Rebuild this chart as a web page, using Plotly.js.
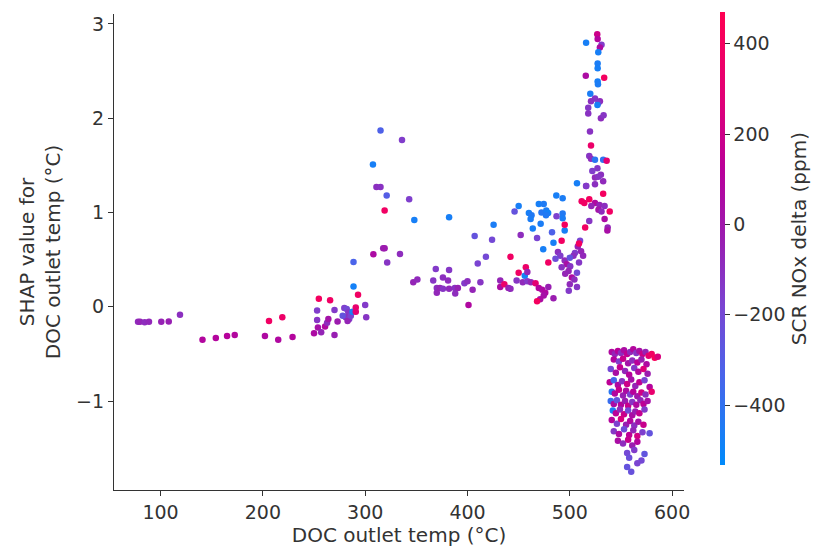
<!DOCTYPE html>
<html><head><meta charset="utf-8">
<script src="https://cdn.plot.ly/plotly-3.0.1.min.js"></script>
<style>html,body{margin:0;padding:0;background:#fff;}#chart{width:824px;height:552px;}</style>
</head><body><div id="chart"></div>
<script>
// DOC outlet temp (°C)
const temp = [
78,80,84.5,88.7,100.7,108,119,
141,154,165,172.5,
202,206,215,219,229,
250,253,254.7,253,253.8,257,260.8,262.8,264,265.7,270,270,273,
279.6,282,283.5,281,284.4,282.8,286,278,
288.6,288.6,293,287.6,290.8,290.8,300,301,
308,311,315,319,317.6,319,321,321.5,
315,307.6,336,
343,348,382,334,
369,382,347,351,366.5,376,381,
370,370,373,376,382,387.6,390.6,388,
397,400,405,401,412.6,410,418,407,424,425.5,
432,432,436,440,442,442,446,450,452,
450,457,456,458.5,448,454,458.5,462,
466.5,469.7,473,476,479,474.5,471,468,484,
460,462.6,461.7,469.7,474.5,472.3,477,478.8,476.7,471.5,463.8,468,474,482.6,484,486.8,493,493,493,495,495,487,492,507,516,
488.4,490.7,495,497,500.4,498.8,502,504.5,507,509,511,507.8,505,503.6,510,513,500,492,495.5,499,500,507,486,479,509,515,519,
511.6,519,524.6,529,534,528,531,539,534,537,536.7,532.6,524.6,532.6,
526.8,527.2,531,529.4,515.9,527.8,527.2,527.2,533.6,515.6,527.2,527.5,520,524.6,520.7,529.4,527.8,518,518,527,530.4,533,519.7,520.7,519,520.7,524.6,532.6,527,522,530.4,524.6,527.8,515.9,514.2,521,536,
541,544,547,550,553,556,559,562,565,568,571,574,577,580,583,586,
543,548,552,557,561,566,570,575,
540,545,549,554,558,563,567,572,576,
539,543,547,551,556,560,564,568,573,578,
541,544,548,552,555,559,562,566,570,574,580,
540,543,546,550,554,557,561,565,569,572,576,
542,545,549,553,557,561,564,568,573,
541,546,550,555,559,563,567,572,
543,548,553,558,562,566,571,578,
547,552,557,561,566,
556,563,558,570,556,566,573,560
];
// SHAP value for DOC outlet temp (°C)
const shap = [
-0.16,-0.16,-0.165,-0.16,-0.16,-0.155,-0.085,
-0.35,-0.33,-0.31,-0.30,
-0.31,-0.15,-0.35,-0.11,-0.32,
-0.28,-0.04,0.085,-0.14,-0.22,-0.27,-0.21,-0.17,-0.13,0.07,-0.035,-0.30,-0.155,
-0.014,-0.024,-0.06,-0.11,-0.13,-0.15,-0.095,-0.095,
0.475,0.214,0.127,-0.053,-0.007,-0.053,0.018,-0.11,
0.556,1.27,1.27,1.02,0.62,0.62,1.18,0.47,
1.87,1.51,1.77,
1.14,0.92,0.95,0.56,
0.40,0.39,0.26,0.29,0.28,0.31,0.28,
0.20,0.15,0.20,0.19,0.19,0.20,0.20,0.14,
0.25,0.27,0.18,0.02,0.26,0.46,0.53,0.75,0.71,0.87,
0.28,0.21,0.24,0.20,0.19,0.53,1.01,1.07,0.76,
0.36,0.42,0.33,0.37,0.28,0.26,0.27,0.26,
0.25,0.20,0.18,0.15,0.21,0.12,0.08,0.06,0.09,
0.995,0.97,0.93,1.09,1.09,1.00,1.02,0.995,0.97,0.88,0.83,0.73,0.61,0.79,0.68,1.18,1.15,0.99,0.94,0.81,0.87,0.96,0.70,1.31,1.28,
0.58,0.54,0.49,0.45,0.43,0.38,0.31,0.29,0.36,0.47,0.59,0.64,0.57,0.54,0.70,0.54,0.52,0.42,0.35,0.17,0.24,0.21,0.51,0.47,0.67,0.84,0.91,
1.12,1.14,1.10,1.08,1.07,1.03,1.01,1.01,0.93,0.84,0.81,1.20,1.30,1.33,
2.89,2.84,2.78,2.75,2.80,2.70,2.58,2.53,2.43,2.45,2.39,2.36,2.26,2.21,2.18,2.18,2.16,2.11,2.05,2.14,2.00,2.03,1.86,1.71,1.60,1.57,1.56,1.56,1.47,1.44,1.40,1.37,1.38,1.28,1.10,1.07,1.55,
-0.48,-0.50,-0.47,-0.49,-0.46,-0.50,-0.48,-0.45,-0.49,-0.47,-0.50,-0.48,-0.52,-0.50,-0.54,-0.53,
-0.56,-0.58,-0.55,-0.60,-0.57,-0.59,-0.56,-0.61,
-0.66,-0.70,-0.64,-0.68,-0.72,-0.65,-0.69,-0.66,-0.71,
-0.80,-0.78,-0.83,-0.79,-0.82,-0.77,-0.84,-0.80,-0.78,-0.85,
-0.90,-0.92,-0.88,-0.94,-0.89,-0.93,-0.90,-0.95,-0.91,-0.93,-0.90,
-1.00,-1.03,-0.99,-1.04,-1.00,-1.05,-1.01,-1.04,-0.99,-1.03,-1.00,
-1.10,-1.13,-1.09,-1.14,-1.10,-1.15,-1.11,-1.13,-1.09,
-1.20,-1.24,-1.19,-1.25,-1.21,-1.26,-1.22,-1.25,
-1.32,-1.35,-1.30,-1.36,-1.31,-1.37,-1.33,-1.34,
-1.42,-1.45,-1.41,-1.47,-1.43,
-1.55,-1.52,-1.60,-1.63,-1.70,-1.66,-1.56,-1.75
];
// SCR NOx delta (ppm)
const nox = [
-80,-60,-90,-70,-50,-40,-100,
90,100,110,90,
70,380,80,360,100,
60,-150,400,-120,30,-60,80,-90,20,380,-140,-40,-20,
-160,-200,-130,-100,-150,-60,-180,-250,
-330,-480,380,-460,330,300,-140,-120,
60,-100,-110,380,-40,-20,-300,-120,
-320,-470,-150,
-160,-470,-470,-90,
-140,-130,-60,-80,-120,-100,-90,
-100,-70,-60,-120,-80,-110,-50,-90,
-140,-100,-60,80,-120,-180,-200,-250,-200,-460,
-60,60,350,-40,-80,380,-250,-470,-90,
380,360,-480,-60,-120,-80,-140,-60,
300,100,60,80,-40,30,50,400,-30,
-470,-440,-460,-470,-450,-430,-460,-480,-440,-460,-470,-180,-470,-320,-470,-470,-460,-440,-460,-470,400,-170,390,-470,-120,
-100,-150,-80,40,-120,-60,80,-90,-200,-130,-60,-40,-150,-100,-180,-70,-250,-110,-60,-140,-80,-120,-220,380,400,380,-120,
380,400,80,-60,-100,20,-80,380,60,-60,40,400,-100,-80,
200,100,-150,60,-470,-470,-460,-470,400,60,-470,-460,-460,-120,-100,-80,-140,-130,-110,-470,-90,-120,-110,350,-120,-90,-420,-400,-130,-150,-100,-80,-120,-140,380,-60,300,
80,-60,120,-100,60,150,-80,90,-120,40,200,-50,300,380,420,250,
100,-150,180,20,-90,130,-30,70,
-200,50,160,-70,110,-140,90,260,-20,
140,-350,70,-110,200,30,-60,150,-180,100,
-420,90,170,-40,60,-160,120,10,220,-90,330,
-380,60,-250,110,-30,180,-120,80,-60,140,40,
-460,130,-80,190,-200,50,-30,160,-140,
100,-170,240,-40,90,-100,30,180,
-130,60,-220,140,-60,220,-160,-250,
50,-90,170,-30,100,
-200,-150,-230,-200,-250,-180,-260,-240
];
const xTicks = [100,200,300,400,500,600];
const yTicks = [-1,0,1,2,3];
const cTicks = [-400,-200,0,200,400];

const font = 'DejaVu Sans, sans-serif';
const ink = '#333333';
const scale = [
  [0,'#008bfb'],[0.2,'#4a64ea'],[0.35,'#7a45d2'],[0.5,'#9a1db0'],
  [0.65,'#b8009a'],[0.8,'#df0078'],[1,'#ff0052']
];

const trace = {
  type:'scatter', mode:'markers', x: temp, y: shap,
  marker:{
    size:6.5, color: nox, colorscale: scale, cmin:-533, cmax:470, line:{width:0},
    colorbar:{
      x:1.064, xanchor:'left', xpad:0, y:1.004, yanchor:'top', ypad:0,
      len:453, lenmode:'pixels', thickness:5, outlinewidth:0,
      ticks:'outside', ticklen:5, tickcolor:ink, tickvals:cTicks,
      tickfont:{family:font, size:19, color:ink},
      title:{text:'SCR NOx delta (ppm)', side:'right', font:{family:font, size:20, color:ink}}
    }
  },
  hoverinfo:'x+y'
};

const layout = {
  width:824, height:552, paper_bgcolor:'#fff', plot_bgcolor:'#fff',
  margin:{l:114, r:134, t:12, b:62},
  showlegend:false,
  font:{family:font, color:ink},
  xaxis:{range:[54.5,611.6], tickvals:xTicks, showgrid:false, zeroline:false,
    showline:true, linecolor:ink, linewidth:1.2, ticks:'outside', ticklen:5, tickcolor:ink,
    tickfont:{family:font,size:19,color:ink},
    title:{text:'DOC outlet temp (°C)', font:{family:font,size:20,color:ink}, standoff:6}},
  yaxis:{range:[-1.943,3.105], tickvals:yTicks, showgrid:false, zeroline:false,
    showline:true, linecolor:ink, linewidth:1.2, ticks:'outside', ticklen:5, tickcolor:ink,
    tickfont:{family:font,size:19,color:ink},
    title:{text:'SHAP value for<br>DOC outlet temp (°C)', font:{family:font,size:20,color:ink}, standoff:10}}
};
Plotly.newPlot('chart',[trace],layout,{displayModeBar:false, staticPlot:true});
</script></body></html>
